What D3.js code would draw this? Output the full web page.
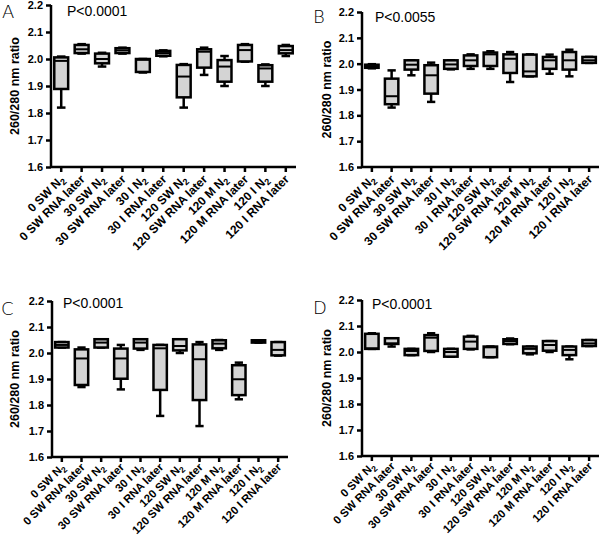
<!DOCTYPE html>
<html>
<head>
<meta charset="utf-8">
<script src="https://cdn.jsdelivr.net/npm/d3@7"></script>
<style>
  body { margin: 0; background: #fff; }
  svg { display: block; }
</style>
</head>
<body>
<svg id="chart" width="600" height="541"></svg>
<script>
// ---- data ----
const categories = [
  ["0 SW N", "2"], ["0 SW RNA later", ""], ["30 SW N", "2"], ["30 SW RNA later", ""],
  ["30 I N", "2"], ["30 I RNA later", ""], ["120 SW N", "2"], ["120 SW RNA later", ""],
  ["120 M N", "2"], ["120 M RNA later", ""], ["120 I N", "2"], ["120 I RNA later", ""]
];
const yTicks = [1.6, 1.7, 1.8, 1.9, 2.0, 2.1, 2.2];
const yTitle = "260/280 nm ratio";
// each entry: [min, q1, median, q3, max]
const panelA = [
  [1.82, 1.889, 1.993, 2.006, 2.009],
  [2.02, 2.022, 2.036, 2.052, 2.055],
  [1.972, 1.984, 2.0, 2.02, 2.023],
  [2.02, 2.022, 2.032, 2.04, 2.042],
  [1.95, 1.952, 1.997, 2.0, 2.0],
  [2.01, 2.012, 2.022, 2.03, 2.032],
  [1.82, 1.858, 1.935, 1.978, 1.981],
  [1.941, 1.968, 2.027, 2.036, 2.042],
  [1.9, 1.916, 1.972, 1.996, 2.011],
  [1.99, 1.991, 2.033, 2.052, 2.055],
  [1.9, 1.916, 1.965, 1.977, 1.98],
  [2.011, 2.021, 2.033, 2.048, 2.052]
];
const panelB = [
  [1.982, 1.984, 1.99, 1.996, 1.998],
  [1.83, 1.843, 1.874, 1.942, 1.974],
  [1.955, 1.977, 1.996, 2.013, 2.013],
  [1.852, 1.884, 1.955, 1.994, 2.004],
  [1.978, 1.98, 1.997, 2.013, 2.013],
  [1.98, 1.991, 2.013, 2.032, 2.036],
  [1.98, 1.991, 2.036, 2.043, 2.048],
  [1.929, 1.964, 2.019, 2.036, 2.045],
  [1.951, 1.951, 1.97, 2.035, 2.036],
  [1.961, 1.98, 2.013, 2.026, 2.035],
  [1.951, 1.977, 2.013, 2.045, 2.054],
  [2.003, 2.003, 2.013, 2.026, 2.026]
];
const panelC = [
  [2.021, 2.021, 2.031, 2.042, 2.042],
  [1.869, 1.877, 1.979, 2.014, 2.021],
  [2.021, 2.021, 2.04, 2.053, 2.053],
  [1.86, 1.901, 1.979, 2.017, 2.031],
  [2.012, 2.017, 2.04, 2.053, 2.053],
  [1.758, 1.858, 2.018, 2.031, 2.031],
  [2.0, 2.01, 2.027, 2.053, 2.053],
  [1.719, 1.819, 1.976, 2.033, 2.042],
  [2.012, 2.018, 2.036, 2.049, 2.05],
  [1.822, 1.838, 1.899, 1.953, 1.963],
  [2.04, 2.04, 2.045, 2.049, 2.049],
  [1.99, 1.991, 2.012, 2.042, 2.042]
];
const panelD = [
  [2.012, 2.012, 2.014, 2.07, 2.072],
  [2.021, 2.031, 2.033, 2.053, 2.053],
  [1.988, 1.988, 2.004, 2.012, 2.012],
  [2.0, 2.004, 2.055, 2.065, 2.072],
  [1.982, 1.982, 2.0, 2.012, 2.012],
  [2.01, 2.012, 2.04, 2.059, 2.062],
  [1.98, 1.98, 2.018, 2.021, 2.021],
  [2.03, 2.031, 2.042, 2.049, 2.052],
  [1.991, 1.995, 2.012, 2.021, 2.021],
  [2.0, 2.005, 2.027, 2.042, 2.042],
  [1.972, 1.988, 2.008, 2.021, 2.021],
  [2.023, 2.023, 2.033, 2.046, 2.046]
];
const panelLetters = ["A", "B", "C", "D"];
const pValues = ["P<0.0001", "P<0.0055", "P<0.0001", "P<0.0001"];

// ---- layout ----
const panels = [
  { data: panelA, letter: panelLetters[0], p: pValues[0], x0: 51, x1: 296, yTop: 5, yBot: 167, lx: 2, ly: 18, px: 67, py: 16, tx: 15, fs: 12, off: 13 },
  { data: panelB, letter: panelLetters[1], p: pValues[1], x0: 362, x1: 599, yTop: 12, yBot: 167, lx: 313, ly: 23, px: 375, py: 22, tx: 327, fs: 12, off: 13 },
  { data: panelC, letter: panelLetters[2], p: pValues[2], x0: 52, x1: 288, yTop: 301, yBot: 457, lx: 1, ly: 315, px: 63, py: 308, tx: 15, fs: 11.3, off: 11 },
  { data: panelD, letter: panelLetters[3], p: pValues[3], x0: 362, x1: 599, yTop: 300, yBot: 456, lx: 313, ly: 314, px: 372, py: 309, tx: 327, fs: 11.3, off: 11 }
];

const svg = d3.select("#chart");
const boldFont = "'Liberation Sans', Arial, sans-serif";

panels.forEach(P => {
  const g = svg.append("g");
  const x = d3.scaleBand().domain(d3.range(categories.length)).range([P.x0, P.x1]);
  const y = d3.scaleLinear().domain([1.6, 2.2]).range([P.yBot, P.yTop]);

  // y axis
  const yAxis = d3.axisLeft(y).tickValues(yTicks).tickFormat(d3.format(".1f")).tickSize(5).tickPadding(3);
  const ya = g.append("g").attr("transform", `translate(${P.x0},0)`).call(yAxis);
  ya.select(".domain").attr("stroke", "#000").attr("stroke-width", 2.5).attr("d", `M0,${P.yTop}V${P.yBot}`);
  ya.selectAll(".tick line").attr("stroke", "#000").attr("stroke-width", 2.5);
  ya.selectAll(".tick text").attr("font-family", boldFont).attr("font-weight", "bold")
    .attr("font-size", 11).attr("fill", "#000");

  // x axis
  const xAxis = d3.axisBottom(x).tickSize(5).tickFormat("");
  const xa = g.append("g").attr("transform", `translate(0,${P.yBot})`).call(xAxis);
  xa.select(".domain").attr("stroke", "#000").attr("stroke-width", 2.5).attr("d", `M${P.x0},0H${P.x1}`);
  xa.selectAll(".tick line").attr("stroke", "#000").attr("stroke-width", 2.5);

  // x labels rotated
  const labels = g.append("g").selectAll("text").data(categories).join("text")
    .attr("transform", (d, i) => `translate(${x(i) + x.bandwidth() / 2 + 4},${P.yBot + P.off}) rotate(-45)`)
    .attr("text-anchor", "end")
    .attr("font-family", boldFont).attr("font-weight", "bold").attr("font-size", P.fs).attr("fill", "#000");
  labels.each(function(d) {
    const t = d3.select(this);
    t.append("tspan").text(d[0]);
    if (d[1]) t.append("tspan").attr("font-size", P.fs * 0.75).attr("dy", 3).text(d[1]);
  });

  // y title
  g.append("text")
    .attr("transform", `translate(${P.tx},${(P.yTop + P.yBot) / 2}) rotate(-90)`)
    .attr("text-anchor", "middle").attr("dy", "0.35em")
    .attr("font-family", boldFont).attr("font-weight", "bold").attr("font-size", 12.5)
    .text(yTitle);

  // boxes
  const bw = x.bandwidth() * 0.68;
  const capW = x.bandwidth() * 0.42;
  const boxes = g.append("g").selectAll("g").data(P.data).join("g")
    .attr("transform", (d, i) => `translate(${x(i) + x.bandwidth() / 2},0)`);
  boxes.append("line").attr("x1", 0).attr("x2", 0)
    .attr("y1", d => y(d[0])).attr("y2", d => y(d[4]))
    .attr("stroke", "#000").attr("stroke-width", 2.5);
  boxes.append("line").attr("x1", -capW / 2).attr("x2", capW / 2)
    .attr("y1", d => y(d[0])).attr("y2", d => y(d[0]))
    .attr("stroke", "#000").attr("stroke-width", 2.5);
  boxes.append("line").attr("x1", -capW / 2).attr("x2", capW / 2)
    .attr("y1", d => y(d[4])).attr("y2", d => y(d[4]))
    .attr("stroke", "#000").attr("stroke-width", 2.5);
  boxes.append("rect").attr("x", -bw / 2).attr("width", bw)
    .attr("y", d => y(d[3])).attr("height", d => Math.max(0.5, y(d[1]) - y(d[3])))
    .attr("fill", "#d4d4d4").attr("stroke", "#000").attr("stroke-width", 2.5);
  boxes.append("line").attr("x1", -bw / 2).attr("x2", bw / 2)
    .attr("y1", d => y(d[2])).attr("y2", d => y(d[2]))
    .attr("stroke", "#000").attr("stroke-width", 2);

  // panel letter
  g.append("text").attr("x", P.lx).attr("y", P.ly)
    .attr("font-family", "'DejaVu Sans', sans-serif").attr("font-weight", 200).attr("font-size", 18)
    .text(P.letter);
  // p-value
  g.append("text").attr("x", P.px).attr("y", P.py)
    .attr("font-family", "'Liberation Sans', Arial, sans-serif").attr("font-size", 14)
    .text(P.p);
});
</script>
</body>
</html>
